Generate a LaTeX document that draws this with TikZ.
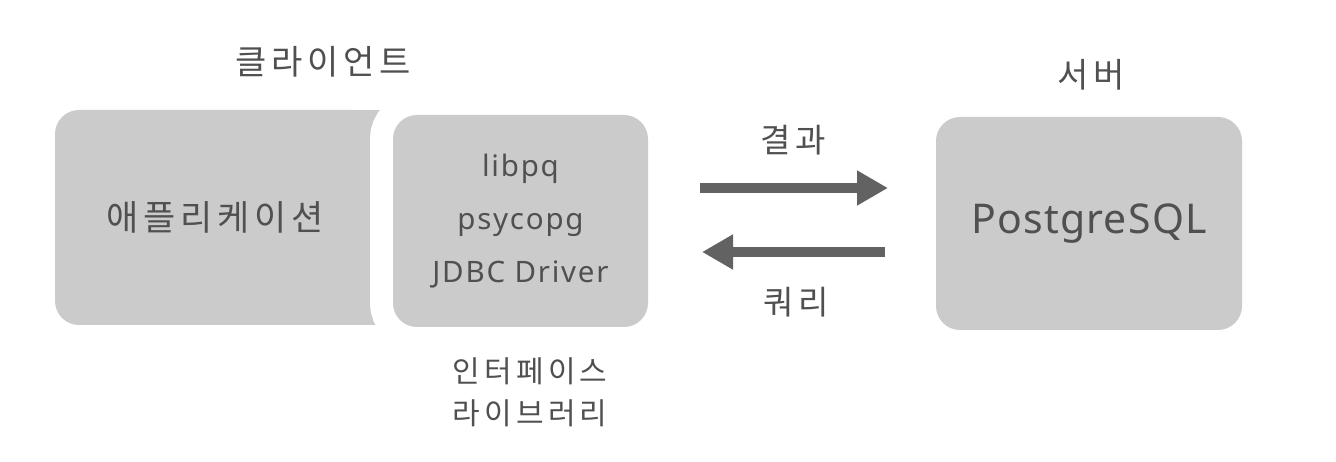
\documentclass[tikz,border=0pt]{standalone}
\usepackage{fontspec}
\setmainfont{Noto Sans}
\newfontfamily\kr[LetterSpace=14]{Noto Sans CJK KR}
\newfontfamily\latw[LetterSpace=6]{Noto Sans}
\newfontfamily\latn[LetterSpace=3]{Noto Sans}
\usetikzlibrary{arrows.meta}
\definecolor{boxgray}{HTML}{CBCBCB}
\definecolor{txtgray}{HTML}{505050}
\definecolor{arrgray}{HTML}{626262}
\tikzset{
  gbox/.style={fill=boxgray, rounded corners=24pt, inner sep=0pt, text=txtgray},
  lbl/.style={text=txtgray, inner sep=0pt},
  flow/.style={draw=arrgray, line width=10pt, -{Triangle[length=31pt,width=33pt]}},
}
\begin{document}
\begin{tikzpicture}[x=1pt,y=-1pt]
\useasboundingbox (0,0) rectangle (1336,462);
% application box
\node[gbox, minimum width=320pt, minimum height=215pt, font=\kr\fontsize{35}{40}\selectfont] (app) at (215,217.5) {애플리케이션};
\fill[boxgray] (340,110) rectangle (420,325);
% interface library box
\node[gbox, minimum width=255pt, minimum height=212pt, align=center,
      font=\latw\fontsize{29.5}{53}\selectfont,
      preaction={draw=white, line width=46pt}] (ifc) at (520.5,221)
      {libpq\\psycopg\\JDBC Driver};
% server box
\node[gbox, minimum width=306pt, minimum height=213pt, font=\latn\fontsize{41}{48}\selectfont] (srv) at (1089,223.5) {PostgreSQL};
% titles
\node[lbl, font=\kr\fontsize{34}{40}\selectfont] (client) at (323,62) {클라이언트};
\node[lbl, font=\kr\fontsize{34}{40}\selectfont] (server) at (1091,75) {서버};
\node[lbl, align=center, font=\kr\fontsize{30}{42}\selectfont] (ifclbl) at (530,392) {인터페이스\\라이브러리};
% arrows
\coordinate (r1) at (700,188);
\coordinate (r2) at (888,188);
\coordinate (q1) at (885,252);
\coordinate (q2) at (702,252);
\draw[flow] (r1) -- (r2);
\draw[flow] (q1) -- (q2);
\node[lbl, font=\kr\fontsize{33}{40}\selectfont] (res) at (793,140) {결과};
\node[lbl, font=\kr\fontsize{33}{40}\selectfont] (qry) at (796,302) {쿼리};
\end{tikzpicture}
\end{document}
